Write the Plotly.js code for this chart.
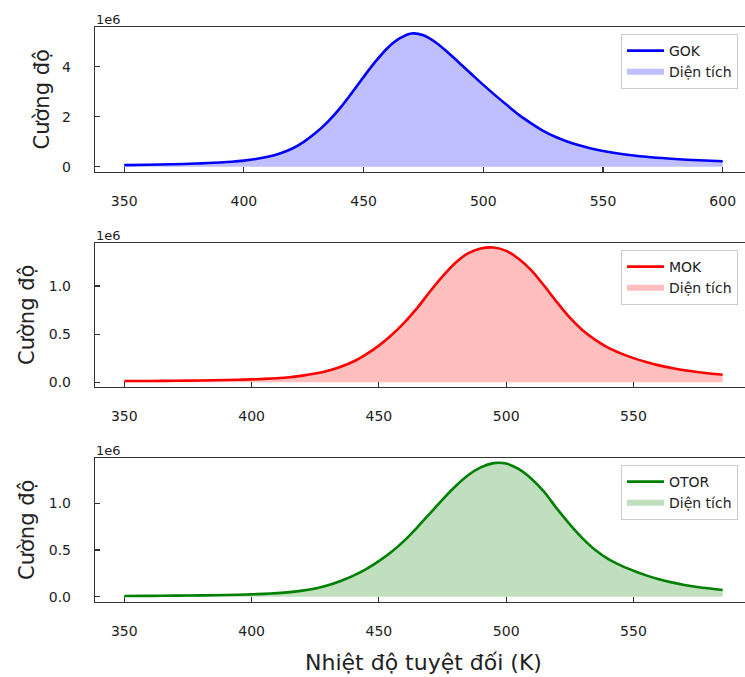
<!DOCTYPE html>
<html>
<head>
<meta charset="utf-8">
<script src="https://cdn.plot.ly/plotly-3.0.1.min.js"></script>
<style>
html, body { margin: 0; padding: 0; background: #fff; }
#chart { width: 745px; height: 677px; }
</style>
</head>
<body>
<div id="chart"></div>
<script>
// Temperature (K) and intensity (in units of 1e6)
const T_GOK = [350, 360, 370, 380, 385, 390, 395, 400, 405, 410, 415, 420, 425, 430, 435, 440, 445, 450, 455, 460, 465, 470, 475, 480, 485, 490, 495, 500, 505, 510, 515, 520, 525, 530, 535, 540, 545, 550, 560, 570, 580, 590, 600];
const I_GOK = [0.065, 0.08, 0.10, 0.13, 0.148, 0.17, 0.20, 0.245, 0.31, 0.40, 0.53, 0.72, 1.00, 1.36, 1.80, 2.33, 2.95, 3.60, 4.22, 4.76, 5.14, 5.34, 5.27, 4.99, 4.60, 4.16, 3.72, 3.28, 2.86, 2.46, 2.07, 1.74, 1.44, 1.20, 1.01, 0.86, 0.73, 0.63, 0.48, 0.38, 0.31, 0.26, 0.22];

const T_MOK = [350, 360, 370, 380, 390, 400, 405, 410, 415, 420, 425, 430, 435, 440, 445, 450, 455, 460, 465, 470, 475, 480, 485, 490, 495, 500, 505, 510, 515, 520, 525, 530, 535, 540, 545, 550, 555, 560, 565, 570, 575, 580, 585];
const I_MOK = [0.012, 0.013, 0.015, 0.018, 0.022, 0.029, 0.034, 0.041, 0.052, 0.068, 0.09, 0.12, 0.16, 0.215, 0.29, 0.38, 0.49, 0.62, 0.77, 0.94, 1.10, 1.24, 1.34, 1.39, 1.40, 1.365, 1.28, 1.16, 1.00, 0.83, 0.67, 0.54, 0.44, 0.36, 0.30, 0.25, 0.21, 0.175, 0.148, 0.125, 0.106, 0.09, 0.077];

const T_OTOR = [350, 360, 370, 380, 390, 400, 405, 410, 415, 420, 425, 430, 435, 440, 445, 450, 455, 460, 465, 470, 475, 480, 485, 490, 495, 500, 505, 510, 515, 520, 525, 530, 535, 540, 545, 550, 555, 560, 565, 570, 575, 580, 585];
const I_OTOR = [0.007, 0.009, 0.011, 0.014, 0.018, 0.025, 0.030, 0.038, 0.049, 0.065, 0.088, 0.122, 0.168, 0.225, 0.295, 0.38, 0.48, 0.60, 0.74, 0.89, 1.04, 1.18, 1.30, 1.385, 1.43, 1.425, 1.365, 1.26, 1.12, 0.94, 0.775, 0.625, 0.50, 0.405, 0.335, 0.278, 0.228, 0.186, 0.153, 0.126, 0.104, 0.087, 0.072];

const seriesNames = ['GOK', 'MOK', 'OTOR'];
const areaName = 'Diện tích';
const yTitle = 'Cường độ';
const xTitle = 'Nhiệt độ tuyệt đối (K)';
const offsetLabel = '1e6';
const ticksTop = [350, 400, 450, 500, 550, 600];
const ticksLower = [350, 400, 450, 500, 550];

const W = 745, H = 677;
const FONT = 'DejaVu Sans';
const spine = '#333333';
const lineColors = ['#0000ff', '#ff0000', '#008000'];
const fillColors = ['rgba(0,0,255,0.25)', 'rgba(255,0,0,0.25)', 'rgba(0,128,0,0.25)'];

const Ts = [T_GOK, T_MOK, T_OTOR];
const Is = [I_GOK, I_MOK, I_OTOR];
const axSuffix = ['', '2', '3'];
const legendIds = ['legend', 'legend2', 'legend3'];

// pixel geometry of the three panels
const panels = [
  {top: 27, bottom: 172, yr: [-0.21, 5.6], xr: [337.8, 609.3], ticks: ticksTop, ytv: [0, 2, 4], ytt: ['0', '2', '4'], ytitleX: 42, legTop: 34},
  {top: 243, bottom: 387, yr: [-0.05, 1.447], xr: [338.5, 593.8], ticks: ticksLower, ytv: [0, 0.5, 1.0], ytt: ['0.0', '0.5', '1.0'], ytitleX: 27, legTop: 250},
  {top: 458, bottom: 602, yr: [-0.057, 1.485], xr: [338.5, 593.8], ticks: ticksLower, ytv: [0, 0.5, 1.0], ytt: ['0.0', '0.5', '1.0'], ytitleX: 27, legTop: 465}
];
const leftPx = 95;

const data = [];
const layout = {
  width: W, height: H,
  margin: {l: 0, r: 0, t: 0, b: 0},
  paper_bgcolor: '#ffffff', plot_bgcolor: '#ffffff',
  font: {family: FONT, size: 14, color: '#222'},
  annotations: [],
  showlegend: true
};

panels.forEach((p, i) => {
  const xa = 'x' + axSuffix[i], ya = 'y' + axSuffix[i];
  data.push({
    type: 'scatter', mode: 'none', x: Ts[i], y: Is[i], xaxis: xa, yaxis: ya,
    fill: 'tozeroy', fillcolor: fillColors[i], line: {shape: 'spline', smoothing: 0.8, width: 0},
    name: areaName, legend: legendIds[i], legendrank: 2, hoverinfo: 'skip'
  });
  data.push({
    type: 'scatter', mode: 'lines', x: Ts[i], y: Is[i], xaxis: xa, yaxis: ya,
    line: {color: lineColors[i], width: 2.6, shape: 'spline', smoothing: 0.8},
    name: seriesNames[i], legend: legendIds[i], legendrank: 1
  });
  const yd = [1 - p.bottom / H, 1 - p.top / H];
  layout['xaxis' + axSuffix[i]] = {
    domain: [leftPx / W, 1], range: p.xr, anchor: ya,
    showgrid: false, zeroline: false, showline: true, mirror: true,
    linecolor: spine, linewidth: 1.2,
    ticks: 'inside', ticklen: 5, tickwidth: 1.1, tickcolor: spine,
    tickvals: p.ticks, ticktext: p.ticks.map(String),
    ticklabelstandoff: 16,
    tickfont: {family: FONT, size: 14, color: '#222'}
  };
  layout['yaxis' + axSuffix[i]] = {
    domain: yd, range: p.yr, anchor: xa,
    showgrid: false, zeroline: false, showline: true, mirror: false,
    linecolor: spine, linewidth: 1.2,
    ticks: 'inside', ticklen: 5, tickwidth: 1.1, tickcolor: spine,
    tickvals: p.ytv, ticktext: p.ytt,
    ticklabelstandoff: 20,
    tickfont: {family: FONT, size: 14, color: '#222'}
  };
  layout[legendIds[i]] = {
    x: 621 / W, xanchor: 'left', y: 1 - p.legTop / H, yanchor: 'top',
    bgcolor: 'rgba(255,255,255,0.8)', bordercolor: '#cccccc', borderwidth: 1,
    font: {family: FONT, size: 14, color: '#222'},
    itemwidth: 37, tracegroupgap: 0,
    entrywidth: 112, entrywidthmode: 'pixels'
  };
  layout.annotations.push({
    xref: 'paper', yref: 'paper', x: leftPx / W, y: 1 - p.top / H,
    xanchor: 'left', yanchor: 'bottom', showarrow: false, text: offsetLabel,
    font: {family: FONT, size: 13, color: '#222'}, borderpad: 0, yshift: -1
  });
  layout.annotations.push({
    xref: 'paper', yref: 'paper', x: p.ytitleX / W, y: 1 - ((p.top + p.bottom) / 2) / H,
    xanchor: 'center', yanchor: 'middle', showarrow: false, text: yTitle, textangle: -90,
    font: {family: FONT, size: 21, color: '#222'}
  });
});

layout.annotations.push({
  xref: 'paper', yref: 'paper', x: 423.5 / W, y: 1 - 662 / H,
  xanchor: 'center', yanchor: 'middle', showarrow: false, text: xTitle,
  font: {family: FONT, size: 22, color: '#222'}
});

Plotly.newPlot('chart', data, layout, {displayModeBar: false, staticPlot: true});
</script>
</body>
</html>
